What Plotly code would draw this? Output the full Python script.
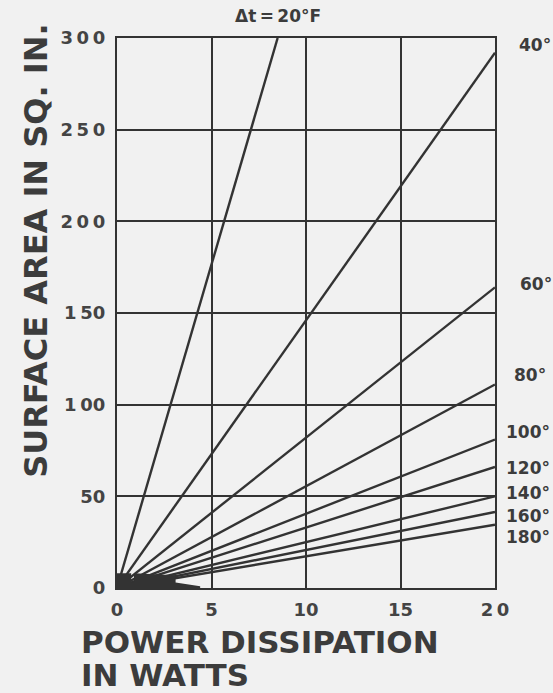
import plotly.graph_objects as go

# ---- data ----
delta_t_labels = ["20", "40", "60", "80", "100", "120", "140", "160", "180"]
x_start = [0, 0, 0, 0, 0, 0, 0, 0, 0]
y_start = [0, 0, 0, 0, 0, 0, 0, 0, 0]
x_end = [8.5, 20, 20, 20, 20, 20, 20, 20, 20]
y_end = [300, 292, 164, 111, 81, 66, 50, 41.5, 34.5]

x_tickvals = [0, 5, 10, 15, 20]
x_ticktext = ["0", "5", "10", "15", "2\u20090"]
y_tickvals = [0, 50, 100, 150, 200, 250, 300]
y_ticktext = ["0", "50", "1\u200900", "1\u200950", "2\u20090\u20090", "2\u20095\u20090", "3\u20090\u20090"]

# right-hand label positions (paper fraction of plot height) and left pixel offsets
label_y_pos = [None, 0.988, 0.553, 0.387, 0.284, 0.218, 0.173, 0.131, 0.093]
label_xshift = [None, 22, 23, 17, 9, 9, 9, 9, 9]

INK = "#333333"
TXT = "#3c3c3c"
BG = "#f1f1f1"
FONT = "DejaVu Sans"

fig = go.Figure()
for i, lab in enumerate(delta_t_labels):
    fig.add_trace(go.Scatter(
        x=[x_start[i], x_end[i]], y=[y_start[i], y_end[i]],
        mode="lines", line=dict(color=INK, width=2.4),
        name=lab + "°", showlegend=False, hoverinfo="skip", cliponaxis=False,
    ))

# dark smudge at the origin where the lines merge
fig.add_shape(type="path", xref="x", yref="y",
              path="M 0 0 L 0 8 L 0.75 8 L 0.75 3 L 0.9 3 L 0.9 8 L 3.1 7 L 3.1 3 L 4.4 1 L 4.4 0 Z",
              fillcolor=INK, line=dict(width=0), layer="above")

# top label for 20 degree line
fig.add_annotation(x=x_end[0], y=1.0, xref="x", yref="paper", yshift=22,
                   text="\u0394t\u2009=\u200920°F", showarrow=False,
                   font=dict(family=FONT, size=17, color=TXT, weight="bold"),
                   xanchor="center", yanchor="middle")
for i in range(1, len(delta_t_labels)):
    fig.add_annotation(x=x_end[i], y=label_y_pos[i], xref="x", yref="paper",
                       xshift=label_xshift[i], text=delta_t_labels[i] + "°",
                       showarrow=False, xanchor="left", yanchor="middle",
                       font=dict(family=FONT, size=17, color=TXT, weight="bold"))

# axis titles
fig.add_annotation(x=0, xref="paper", xshift=-81, y=0.613, yref="paper",
                   text="SURFACE AREA IN SQ. IN.", textangle=-90, showarrow=False,
                   font=dict(family=FONT, size=32, color=TXT, weight="bold"),
                   xanchor="center", yanchor="middle")
fig.add_annotation(x=0, y=0, xref="paper", yref="paper", xshift=-38, yshift=-54,
                   text="POWER DISSIPATION", showarrow=False,
                   xanchor="left", yanchor="middle",
                   font=dict(family=FONT, size=31, color=TXT, weight="bold"))
fig.add_annotation(x=0, y=0, xref="paper", yref="paper", xshift=-38, yshift=-87,
                   text="IN WATTS", showarrow=False,
                   xanchor="left", yanchor="middle",
                   font=dict(family=FONT, size=31, color=TXT, weight="bold"))

axis_common = dict(showgrid=True, gridcolor=INK, gridwidth=2.4, showline=True,
                   linecolor=INK, linewidth=2.4, mirror=True, zeroline=False,
                   ticks="", tickfont=dict(family=FONT, size=18, color="#444444", weight="bold"))
fig.update_xaxes(range=[0, 20], tickvals=x_tickvals, ticktext=x_ticktext,
                 ticklabelstandoff=4, **axis_common)
fig.update_yaxes(range=[0, 300], tickvals=y_tickvals, ticktext=y_ticktext,
                 ticklabelstandoff=6, **axis_common)

fig.update_layout(width=553, height=693, paper_bgcolor=BG, plot_bgcolor=BG,
                  margin=dict(l=117, r=58, t=38, b=105), showlegend=False)

fig.write_html("out.html", config={"displayModeBar": False},
               post_script="document.body.style.margin='0';document.body.style.background='#f1f1f1';")
